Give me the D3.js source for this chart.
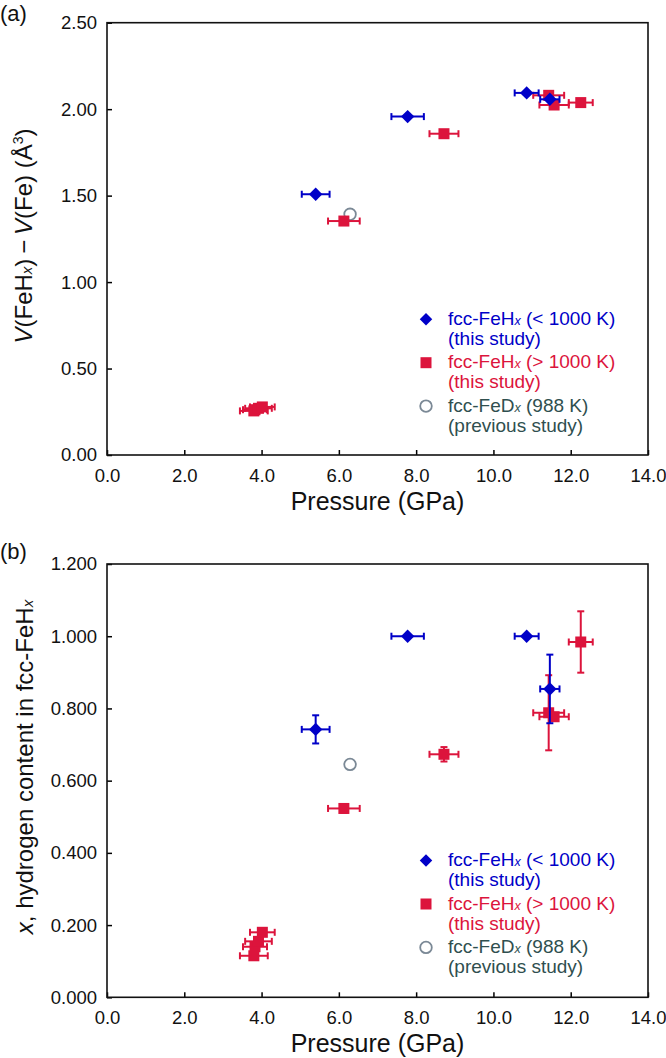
<!DOCTYPE html>
<html>
<head>
<meta charset="utf-8">
<script src="https://cdn.jsdelivr.net/npm/d3@7"></script>
<style>
  html, body { margin: 0; padding: 0; background: #fff; }
  svg { display: block; font-family: "Liberation Sans", Arial, sans-serif; }
</style>
</head>
<body>
<svg id="chart" width="666" height="1058"></svg>
<script>
// ---------------- DATA ----------------
const pressureTicks = [0, 2, 4, 6, 8, 10, 12, 14];
const volumeTicks = [0, 0.5, 1.0, 1.5, 2.0, 2.5];
const contentTicks = [0, 0.2, 0.4, 0.6, 0.8, 1.0, 1.2];

// fcc-FeHx (< 1000 K), this study
const lowP    = [5.40, 7.78, 10.86, 11.46];
const lowPErr = [0.36, 0.42, 0.31, 0.25];
const lowDV   = [1.508, 1.957, 2.094, 2.057];
const lowX    = [0.742, 1.000, 1.000, 0.854];
const lowXErr = [0.039, 0, 0, 0.095];

// fcc-FeHx (> 1000 K), this study
const highP    = [3.80, 3.83, 3.92, 4.02, 6.13, 8.72, 11.43, 11.57, 12.26];
const highPErr = [0.36, 0.31, 0.345, 0.32, 0.41, 0.375, 0.40, 0.38, 0.31];
const highDV   = [0.255, 0.262, 0.270, 0.278, 1.353, 1.858, 2.080, 2.024, 2.038];
const highX    = [0.115, 0.140, 0.155, 0.180, 0.523, 0.673, 0.788, 0.777, 0.984];
const highXErr = [0.008, 0.008, 0.008, 0.010, 0.012, 0.020, 0.104, 0.008, 0.085];

// fcc-FeDx (988 K), previous study
const prevP  = [6.29];
const prevDV = [1.392];
const prevX  = [0.645];

const legendItems = [
  { key: "low",  l1: "fcc-FeH", sub: "x", l1b: " (< 1000 K)", l2: "(this study)" },
  { key: "high", l1: "fcc-FeH", sub: "x", l1b: " (> 1000 K)", l2: "(this study)" },
  { key: "prev", l1: "fcc-FeD", sub: "x", l1b: " (988 K)",    l2: "(previous study)" }
];

// ---------------- STYLE ----------------
const BLUE = "#0000c8", RED = "#dc143c", GRAY = "#7b8996", GRAYTXT = "#2f4f4f";
const colorOf = { low: BLUE, high: RED, prev: GRAYTXT };

const svg = d3.select("#chart");
const L = 107, R = 648;

function zip(p, pe, y, ye) {
  return p.map((v, i) => ({ p: v, pe: pe ? pe[i] : 0, y: y[i], ye: ye ? ye[i] : 0 }));
}

function drawPanel(opt) {
  const g = svg.append("g");
  const x = d3.scaleLinear().domain([0, 14]).range([L, R]);
  const y = d3.scaleLinear().domain(opt.domain).range([opt.bottom, opt.top]);

  // axes
  const xa = g.append("g").attr("transform", `translate(0,${opt.bottom})`)
    .call(d3.axisBottom(x).tickValues(pressureTicks).tickSize(-5).tickPadding(13.5)
      .tickFormat(d3.format(".1f")));
  const ya = g.append("g").attr("transform", `translate(${L},0)`)
    .call(d3.axisLeft(y).tickValues(opt.ticks).tickSize(-5).tickPadding(10)
      .tickFormat(d3.format(opt.fmt)));
  [xa, ya].forEach(a => {
    a.select(".domain").remove();
    a.selectAll(".tick line").attr("stroke", "#000").attr("stroke-width", 1.5);
    a.selectAll(".tick text").attr("font-size", 18.5).attr("fill", "#111")
      .attr("font-family", "'Liberation Sans', Arial, sans-serif");
  });

  g.append("rect").attr("x", L).attr("y", opt.top)
    .attr("width", R - L).attr("height", opt.bottom - opt.top)
    .attr("fill", "none").attr("stroke", "#111").attr("stroke-width", 1.6);

  // x-axis title
  g.append("text").attr("x", (L + R) / 2).attr("y", opt.bottom + 55)
    .attr("text-anchor", "middle").attr("font-size", 25).attr("fill", "#111")
    .text("Pressure (GPa)");

  // panel letter
  g.append("text").attr("x", 0).attr("y", opt.letterY)
    .attr("font-size", 22).attr("fill", "#111").text(opt.letter);

  // y title
  const yt = g.append("text")
    .attr("transform", `translate(${opt.titleX},${opt.titleY}) rotate(-90)`)
    .attr("text-anchor", "middle").attr("font-size", 24).attr("fill", "#111");
  opt.title(yt);

  // markers
  const cap = 3.5;
  function errorBars(data, color) {
    const eg = g.append("g").attr("stroke", color).attr("stroke-width", 2).attr("fill", "none");
    data.forEach(d => {
      const cx = x(d.p), cy = y(d.y);
      if (d.pe > 0) {
        const x0 = x(d.p - d.pe), x1 = x(d.p + d.pe);
        eg.append("line").attr("x1", x0).attr("x2", x1).attr("y1", cy).attr("y2", cy);
        eg.append("line").attr("x1", x0).attr("x2", x0).attr("y1", cy - cap).attr("y2", cy + cap);
        eg.append("line").attr("x1", x1).attr("x2", x1).attr("y1", cy - cap).attr("y2", cy + cap);
      }
      if (d.ye > 0) {
        const y0 = y(d.y - d.ye), y1 = y(d.y + d.ye);
        eg.append("line").attr("x1", cx).attr("x2", cx).attr("y1", y0).attr("y2", y1);
        eg.append("line").attr("x1", cx - cap).attr("x2", cx + cap).attr("y1", y0).attr("y2", y0);
        eg.append("line").attr("x1", cx - cap).attr("x2", cx + cap).attr("y1", y1).attr("y2", y1);
      }
    });
  }

  // previous study (behind)
  g.append("g").selectAll("circle").data(opt.prev).join("circle")
    .attr("cx", d => x(d.p)).attr("cy", d => y(d.y)).attr("r", 5.8)
    .attr("fill", "none").attr("stroke", GRAY).attr("stroke-width", 1.8);

  // high T squares
  errorBars(opt.high, RED);
  const s = 11;
  g.append("g").selectAll("rect").data(opt.high).join("rect")
    .attr("x", d => x(d.p) - s / 2).attr("y", d => y(d.y) - s / 2)
    .attr("width", s).attr("height", s).attr("fill", RED);

  // low T diamonds
  errorBars(opt.low, BLUE);
  const dsym = d3.symbol().type(d3.symbolDiamond2).size(115);
  g.append("g").selectAll("path").data(opt.low).join("path")
    .attr("transform", d => `translate(${x(d.p)},${y(d.y)})`)
    .attr("d", dsym).attr("fill", BLUE);

  // legend
  const lg = g.append("g").attr("transform", `translate(${L + 319},${opt.top})`);
  legendItems.forEach((it, i) => {
    const my = 296.6 + i * 43.4;
    if (it.key === "low") {
      lg.append("path").attr("transform", `translate(0,${my})`)
        .attr("d", d3.symbol().type(d3.symbolDiamond2).size(100)).attr("fill", BLUE);
    } else if (it.key === "high") {
      lg.append("rect").attr("x", -5.5).attr("y", my - 5.5).attr("width", 11).attr("height", 11).attr("fill", RED);
    } else {
      lg.append("circle").attr("cx", 0).attr("cy", my).attr("r", 5.8)
        .attr("fill", "none").attr("stroke", GRAY).attr("stroke-width", 1.8);
    }
    const c = colorOf[it.key];
    const t1 = lg.append("text").attr("x", 22).attr("y", my + 5.7)
      .attr("font-size", 19).attr("fill", c);
    t1.append("tspan").text(it.l1);
    t1.append("tspan").attr("font-size", 12.5).attr("font-style", "italic").text(it.sub);
    t1.append("tspan").text(it.l1b);
    lg.append("text").attr("x", 22).attr("y", my + 25.7)
      .attr("font-size", 19).attr("fill", c).text(it.l2);
  });
}

// Panel (a)
drawPanel({
  top: 22.7, bottom: 455, domain: [0, 2.5], ticks: volumeTicks, fmt: ".2f",
  letter: "(a)", letterY: 21, titleX: 32, titleY: 236,
  title: t => {
    t.append("tspan").attr("font-style", "italic").text("V");
    t.append("tspan").text("(FeH");
    t.append("tspan").attr("font-size", 15).attr("font-style", "italic").text("x");
    t.append("tspan").text(")\u2009\u2212\u2009");
    t.append("tspan").attr("font-style", "italic").text("V");
    t.append("tspan").text("(Fe) (Å");
    t.append("tspan").attr("font-size", 14).attr("dy", -9).text("3");
    t.append("tspan").attr("dy", 9).text(")");
  },
  low: zip(lowP, lowPErr, lowDV, null),
  high: zip(highP, highPErr, highDV, null),
  prev: zip(prevP, null, prevDV, null)
});

// Panel (b)
drawPanel({
  top: 564, bottom: 997.3, domain: [0, 1.2], ticks: contentTicks, fmt: ".3f",
  letter: "(b)", letterY: 559, titleX: 33, titleY: 767,
  title: t => {
    t.append("tspan").attr("font-style", "italic").text("x");
    t.append("tspan").text(", hydrogen content in fcc-FeH");
    t.append("tspan").attr("font-size", 15).attr("font-style", "italic").text("x");
  },
  low: zip(lowP, lowPErr, lowX, lowXErr),
  high: zip(highP, highPErr, highX, highXErr),
  prev: zip(prevP, null, prevX, null)
});
</script>
</body>
</html>
